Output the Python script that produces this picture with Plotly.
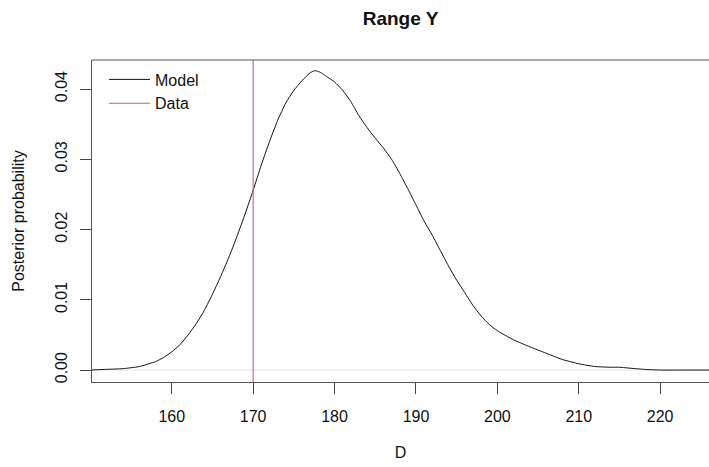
import plotly.graph_objects as go

# Posterior density of D
d_values = [150, 152, 154, 156, 158, 159, 160, 161, 162, 163, 164, 165, 166, 167, 168, 169,
            170, 171, 172, 173, 174, 175, 176, 177, 177.5, 178, 178.5, 179, 180, 181, 182, 183,
            184, 185, 186, 187, 188, 189, 190, 191, 192, 193, 194, 195, 196, 197, 198, 199,
            200, 202, 204, 206, 208, 210, 212, 214, 215, 216, 218, 220, 223, 226]
density = [0.0000, 0.0001, 0.0002, 0.0005, 0.0012, 0.0018, 0.0026, 0.0036, 0.0050, 0.0066,
           0.0085, 0.0108, 0.0133, 0.0160, 0.0190, 0.0222, 0.0256, 0.0292, 0.0325, 0.0355,
           0.0380, 0.0398, 0.0412, 0.0423, 0.0426, 0.0425, 0.0422, 0.0418, 0.0410, 0.0398,
           0.0382, 0.0362, 0.0345, 0.0330, 0.0316, 0.0300, 0.0280, 0.0258, 0.0235, 0.0212,
           0.0192, 0.0170, 0.0148, 0.0128, 0.0110, 0.0092, 0.0077, 0.0065, 0.0056, 0.0043,
           0.0033, 0.0024, 0.0015, 0.0009, 0.0005, 0.0004, 0.0004, 0.0003, 0.0001, 0.0000,
           0.0000, 0.0000]
data_value = 170
x_ticks = [160, 170, 180, 190, 200, 210, 220]
y_ticks = [0.00, 0.01, 0.02, 0.03, 0.04]
x_range = [150.2, 226.0]
y_range = [-0.0017, 0.04413]

FONT = "Liberation Sans, Arial, Helvetica, sans-serif"
red = "#DF536B"

fig = go.Figure()
fig.add_trace(go.Scatter(x=d_values, y=density, mode="lines", name="Model",
                         line=dict(color="#111111", width=1.0, shape="spline", smoothing=0.6)))
fig.add_trace(go.Scatter(x=[data_value, data_value], y=y_range, mode="lines", name="Data",
                         line=dict(color=red, width=1.1)))

# light zero line and top border
fig.add_shape(type="line", xref="paper", x0=0, x1=1, yref="y", y0=0, y1=0,
              line=dict(color="#e6e6e6", width=1), layer="below")
fig.add_shape(type="line", xref="paper", x0=0, x1=1, yref="paper", y0=1, y1=1,
              line=dict(color="#555555", width=1))

fig.update_layout(
    width=709, height=467,
    margin=dict(l=92, r=0, t=60, b=85),
    paper_bgcolor="white", plot_bgcolor="white",
    font=dict(family=FONT, size=16, color="#111111"),
    title=dict(text="<b>Range Y</b>", x=0.5, xref="paper", xanchor="center",
               y=1 - 18 / 467, yref="container", yanchor="middle",
               font=dict(size=19, color="#111111")),
    showlegend=True,
    legend=dict(x=12 / 617, y=1 - 2.5 / 322, xanchor="left", yanchor="top",
                bgcolor="rgba(0,0,0,0)", borderwidth=0, font=dict(size=16),
                tracegroupgap=0, itemwidth=41),
    xaxis=dict(range=x_range, tickvals=x_ticks, ticks="outside", ticklen=11, tickwidth=1,
               tickcolor="#444444", showline=True, linecolor="#555555", linewidth=1,
               showgrid=False, zeroline=False, tickfont=dict(size=16), automargin=False,
               ticklabelstandoff=9,
               title=dict(text="D", font=dict(size=16), standoff=22)),
    yaxis=dict(range=y_range, tickvals=y_ticks, tickformat=".2f", ticks="outside", ticklen=11,
               tickwidth=1, tickcolor="#444444", showline=True, linecolor="#555555", linewidth=1,
               showgrid=False, zeroline=False, tickangle=-90, tickfont=dict(size=16),
               automargin=False, ticklabelstandoff=7,
               title=dict(text="Posterior probability", font=dict(size=16), standoff=23)),
)

fig.write_html("out.html", config={"displayModeBar": False},
               post_script="document.body.style.margin='0';")
